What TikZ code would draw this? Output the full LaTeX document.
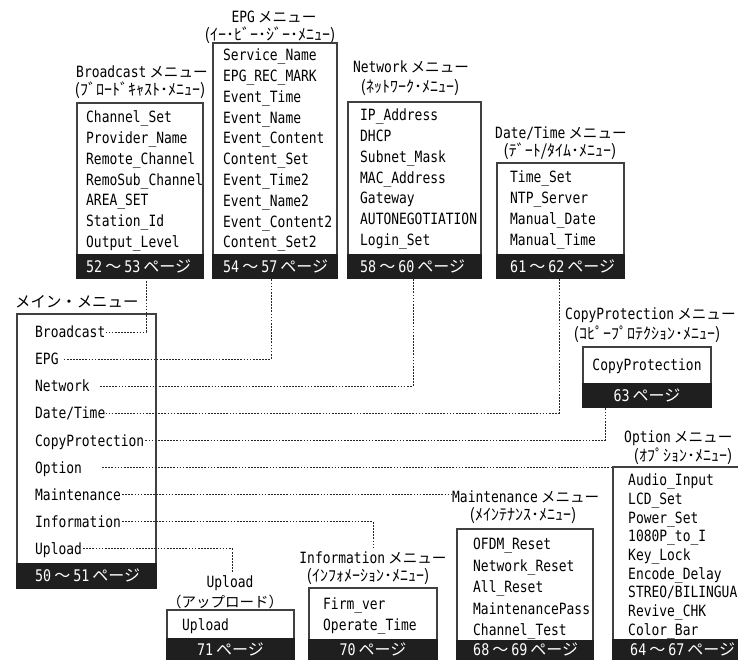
\documentclass[tikz,border=0pt]{standalone}
\usepackage{fontspec}
\usetikzlibrary{calc}
\newfontfamily\lat[FakeStretch=0.835]{DejaVu Sans Mono}
\newfontfamily\cjk{Noto Sans CJK JP}
\newcommand\mn{{\cjk\fontsize{14.6}{16}\selectfont\hspace{3pt}メニュー}}
\newcommand\pgs[2]{{\lat #1}\hspace{3pt}{\cjk ～}\hspace{3pt}{\lat #2}\hspace{3pt}{\cjk ページ}}
\newcommand\pg[1]{{\lat #1}\hspace{3pt}{\cjk ページ}}
\tikzset{
 frame/.style={draw=black!75, line width=1.1pt, fill=white, inner sep=0pt, outer sep=0pt, anchor=north west},
 band/.style={fill=black!88, draw=black!88, line width=1.1pt, inner sep=0pt, outer sep=0pt, anchor=south west},
 item/.style={inner sep=0pt, anchor=west, text height=11.3pt, text depth=0pt, font=\fontsize{15.5}{17}\selectfont\lat},
 itemc/.style={item, anchor=center},
 bandtxt/.style={inner sep=0pt, anchor=west, text height=11.6pt, text depth=0pt, text=white, font=\fontsize{16}{17}\selectfont},
 bandtxtc/.style={bandtxt, anchor=center},
 ttl/.style={inner sep=0pt, text height=11.3pt, text depth=0pt, font=\fontsize{15.5}{17}\selectfont\lat},
 sub/.style={inner sep=0pt, text height=10pt, text depth=0pt, font=\fontsize{16}{17}\selectfont\cjk},
 conn/.style={draw=black!85, line width=0.85pt, dash pattern=on 1.7pt off 1.4pt},
}
\begin{document}
\begin{tikzpicture}[x=1pt,y=-1pt]
\useasboundingbox (0,0) rectangle (738,659);
\clip (0,0) rectangle (738,659);

% ---- Broadcast
\node[ttl] (bct) at (142,72) {Broadcast\mn};
\node[sub] (bcs) at (140,90) {(ﾌﾞﾛｰﾄﾞｷｬｽﾄ･ﾒﾆｭｰ)};
\node[frame, minimum width=126pt, minimum height=175pt] (bc) at (77,103) {};
\node[band, minimum width=126pt, minimum height=23pt] (bcb) at (bc.south west) {};
\foreach \t [count=\i] in {Channel\_Set, Provider\_Name, Remote\_Channel, RemoSub\_Channel, AREA\_SET, Station\_Id, Output\_Level}
  \node[item] (bc\i) at (86,{117+(\i-1)*20.8}) {\t};
\node[bandtxt] (bcp) at (86,266.5) {\pgs{52}{53}};

% ---- EPG
\node[ttl] (epgt) at (274,17) {EPG\mn};
\node[sub] (epgs) at (270,35) {(ｲｰ･ﾋﾞｰ･ｼﾞｰ･ﾒﾆｭｰ)};
\node[frame, minimum width=124pt, minimum height=235pt] (epg) at (213,43) {};
\node[band, minimum width=124pt, minimum height=23pt] (epgb) at (epg.south west) {};
\foreach \t [count=\i] in {Service\_Name, EPG\_REC\_MARK, Event\_Time, Event\_Name, Event\_Content, Content\_Set, Event\_Time2, Event\_Name2, Event\_Content2, Content\_Set2}
  \node[item] (epg\i) at (223,{55+(\i-1)*20.8}) {\t};
\node[bandtxt] (epgp) at (223,266.5) {\pgs{54}{57}};

% ---- Network
\node[ttl] (nett) at (411,67) {Network\mn};
\node[sub] (nets) at (410,87) {(ﾈｯﾄﾜｰｸ･ﾒﾆｭｰ)};
\node[frame, minimum width=133pt, minimum height=176pt] (net) at (348,102) {};
\node[band, minimum width=133pt, minimum height=23pt] (netb) at (net.south west) {};
\foreach \t [count=\i] in {IP\_Address, DHCP, Subnet\_Mask, MAC\_Address, Gateway, AUTONEGOTIATION, Login\_Set}
  \node[item] (net\i) at (360,{115+(\i-1)*20.8}) {\t};
\node[bandtxt] (netp) at (360,266.5) {\pgs{58}{60}};

% ---- Date/Time
\node[ttl] (dtt) at (561,133) {Date/Time\mn};
\node[sub] (dts) at (560,151) {(ﾃﾞｰﾄ/ﾀｲﾑ･ﾒﾆｭｰ)};
\node[frame, minimum width=127pt, minimum height=115pt] (dt) at (497,163) {};
\node[band, minimum width=127pt, minimum height=23pt] (dtb) at (dt.south west) {};
\foreach \t [count=\i] in {Time\_Set, NTP\_Server, Manual\_Date, Manual\_Time}
  \node[item] (dt\i) at (510,{177+(\i-1)*21}) {\t};
\node[bandtxt] (dtp) at (510,266.5) {\pgs{61}{62}};

% ---- Main menu
\node[inner sep=0pt, anchor=west, text height=10.5pt, text depth=0pt, font=\fontsize{15.4}{17}\selectfont\cjk] (maint) at (15,302) {メイン・メニュー};
\node[frame, minimum width=139pt, minimum height=274pt] (main) at (17,314) {};
\node[band, minimum width=139pt, minimum height=24pt] (mainb) at (main.south west) {};
\foreach \t [count=\i] in {Broadcast, EPG, Network, Date/Time, CopyProtection, Option, Maintenance, Information, Upload}
  \node[item] (m\i) at (35,{332+(\i-1)*27.1}) {\t};
\node[bandtxt] (mainp) at (35,576) {\pgs{50}{51}};

% ---- CopyProtection
\node[ttl, anchor=west] (cpt) at (565,314) {CopyProtection\mn};
\node[sub] (cps) at (647,334) {(ｺﾋﾟｰﾌﾟﾛﾃｸｼｮﾝ･ﾒﾆｭｰ)};
\node[frame, minimum width=128pt, minimum height=60pt] (cp) at (583,347) {};
\node[band, minimum width=128pt, minimum height=23pt] (cpb) at (cp.south west) {};
\node[itemc] (cp1) at (647,365) {CopyProtection};
\node[bandtxtc] (cpp) at (647,395.5) {\pg{63}};

% ---- Option
\node[ttl, anchor=west] (optt) at (624,437) {Option\mn};
\node[sub] (opts) at (683,456) {(ｵﾌﾟｼｮﾝ･ﾒﾆｭｰ)};
\node[frame, minimum width=150pt, minimum height=223pt] (opt) at (613,467) {};
\node[band, minimum width=150pt, minimum height=50pt] (optb) at (opt.south west) {};
\foreach \t [count=\i] in {Audio\_Input, LCD\_Set, Power\_Set, 1080P\_to\_I, Key\_Lock, Encode\_Delay, STREO/BILINGUA, Revive\_CHK, Color\_Bar}
  \node[item] (opt\i) at (628,{480+(\i-1)*18.7}) {\t};
\node[bandtxt] (optp) at (630,650) {\pgs{64}{67}};

% ---- Maintenance
\node[ttl, anchor=west] (mtt) at (452,497) {Maintenance\mn};
\node[sub] (mts) at (523,515) {(ﾒｲﾝﾃﾅﾝｽ･ﾒﾆｭｰ)};
\node[frame, minimum width=136pt, minimum height=161pt] (mt) at (457,529) {};
\node[band, minimum width=136pt, minimum height=49pt] (mtb) at (mt.south west) {};
\foreach \t [count=\i] in {OFDM\_Reset, Network\_Reset, All\_Reset, MaintenancePass, Channel\_Test}
  \node[item] (mt\i) at (473,{544+(\i-1)*21.5}) {\t};
\node[bandtxt] (mtp) at (473,650) {\pgs{68}{69}};

% ---- Information
\node[ttl] (itt) at (373,558) {Information\mn};
\node[sub] (its) at (368,576) {(ｲﾝﾌｫﾒｰｼｮﾝ･ﾒﾆｭｰ)};
\node[frame, minimum width=128pt, minimum height=102pt] (inf) at (309,588) {};
\node[band, minimum width=128pt, minimum height=50pt] (infb) at (inf.south west) {};
\foreach \t [count=\i] in {Firm\_ver, Operate\_Time}
  \node[item] (inf\i) at (323,{604+(\i-1)*21}) {\t};
\node[bandtxtc] (infp) at (373,650) {\pg{70}};

% ---- Upload
\node[ttl] (utt) at (230,582) {Upload};
\node[sub, font=\fontsize{14.5}{16}\selectfont\cjk] (uts) at (225,602) {（アップロード）};
\node[frame, minimum width=127pt, minimum height=80pt] (up) at (167,610) {};
\node[band, minimum width=127pt, minimum height=51pt] (upb) at (up.south west) {};
\node[item] (up1) at (182,625) {Upload};
\node[bandtxtc] (upp) at (230.5,650) {\pg{71}};

% ---- connectors
\draw[conn] (m1.east) -| ($(bc.south west)+(69,0)$);
\draw[conn] ([xshift=5pt]m2.east) -| ($(epg.south west)+(58,0)$);
\draw[conn] ([xshift=10pt]m3.east) -| ($(net.south west)+(65,0)$);
\draw[conn] (m4.east) -| ($(dt.south west)+(62,0)$);
\draw[conn] ([xshift=1pt]m5.east) -| ($(cp.south west)+(22,0)$);
\draw[conn] ([xshift=20pt]m6.east) -- (m6.east -| opt.west);
\draw[conn] ([xshift=1pt]m7.east) -- (m7.east -| mtt.west);
\draw[conn] ([xshift=1pt]m8.east) -| ([yshift=3pt]itt.north);
\draw[conn] ([xshift=1pt]m9.east) -| ([xshift=2pt,yshift=4pt]utt.north);
\end{tikzpicture}
\end{document}
